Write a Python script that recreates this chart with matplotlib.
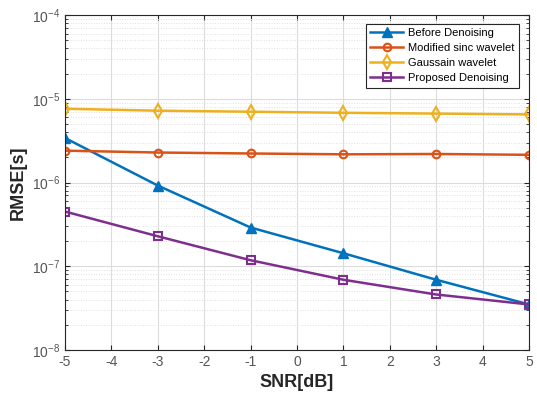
import matplotlib.pyplot as plt
import numpy as np

plt.rcParams['font.family'] = ['Liberation Sans', 'DejaVu Sans']
plt.rcParams['axes.unicode_minus'] = False

snr = [-5, -3, -1, 1, 3, 5]
before = [3.4e-6, 9.2e-7, 2.9e-7, 1.43e-7, 6.9e-8, 3.5e-8]
sinc = [2.4e-6, 2.28e-6, 2.22e-6, 2.17e-6, 2.19e-6, 2.14e-6]
gauss = [7.6e-6, 7.2e-6, 7.0e-6, 6.8e-6, 6.65e-6, 6.5e-6]
proposed = [4.5e-7, 2.28e-7, 1.18e-7, 6.9e-8, 4.6e-8, 3.5e-8]

fig = plt.figure(figsize=(5.37, 4.0), dpi=100)
ax = fig.add_axes([0.121, 0.125, 0.864, 0.8375])

ax.plot(snr, before, '-^', color='#0072BD', lw=1.8, ms=7, mfc='#0072BD', label='Before Denoising')
ax.plot(snr, sinc, '-o', color='#D95319', lw=1.8, ms=5.5, mfc='none', mew=1.5, label='Modified sinc wavelet')
ax.plot(snr, gauss, '-d', color='#EDB120', lw=1.8, ms=7, mfc='none', mew=1.5, label='Gaussain wavelet')
ax.plot(snr, proposed, '-s', color='#7E2F8E', lw=1.8, ms=5.5, mfc='none', mew=1.5, label='Proposed Denoising')

ax.set_yscale('log')
ax.set_xlim(-5, 5)
ax.set_ylim(1e-8, 1e-4)
ax.set_xticks(range(-5, 6))
ax.grid(True, which='major', color='#dcdcdc', lw=0.8)
ax.grid(True, which='minor', axis='y', color='#e0e0e0', lw=0.7, ls=':')
ax.set_axisbelow(True)
ax.tick_params(labelsize=10, colors='#262626', labelcolor='#555555', direction='in',
               which='both', top=True, right=True)
ax.tick_params(axis='y', which='minor', length=2)
for s in ax.spines.values():
    s.set_color('#262626')

ax.set_xlabel('SNR[dB]', fontsize=13, fontweight='bold', color='#262626')
ax.set_ylabel('RMSE[s]', fontsize=13, fontweight='bold', color='#262626')

leg = ax.legend(loc='upper right', bbox_to_anchor=(0.99, 0.99), fontsize=8, fancybox=False,
                framealpha=1, edgecolor='#262626', handlelength=3.0, borderpad=0.4,
                labelspacing=0.45, handletextpad=0.4)
leg.get_frame().set_linewidth(0.8)

fig.savefig('out.png', dpi=100)
